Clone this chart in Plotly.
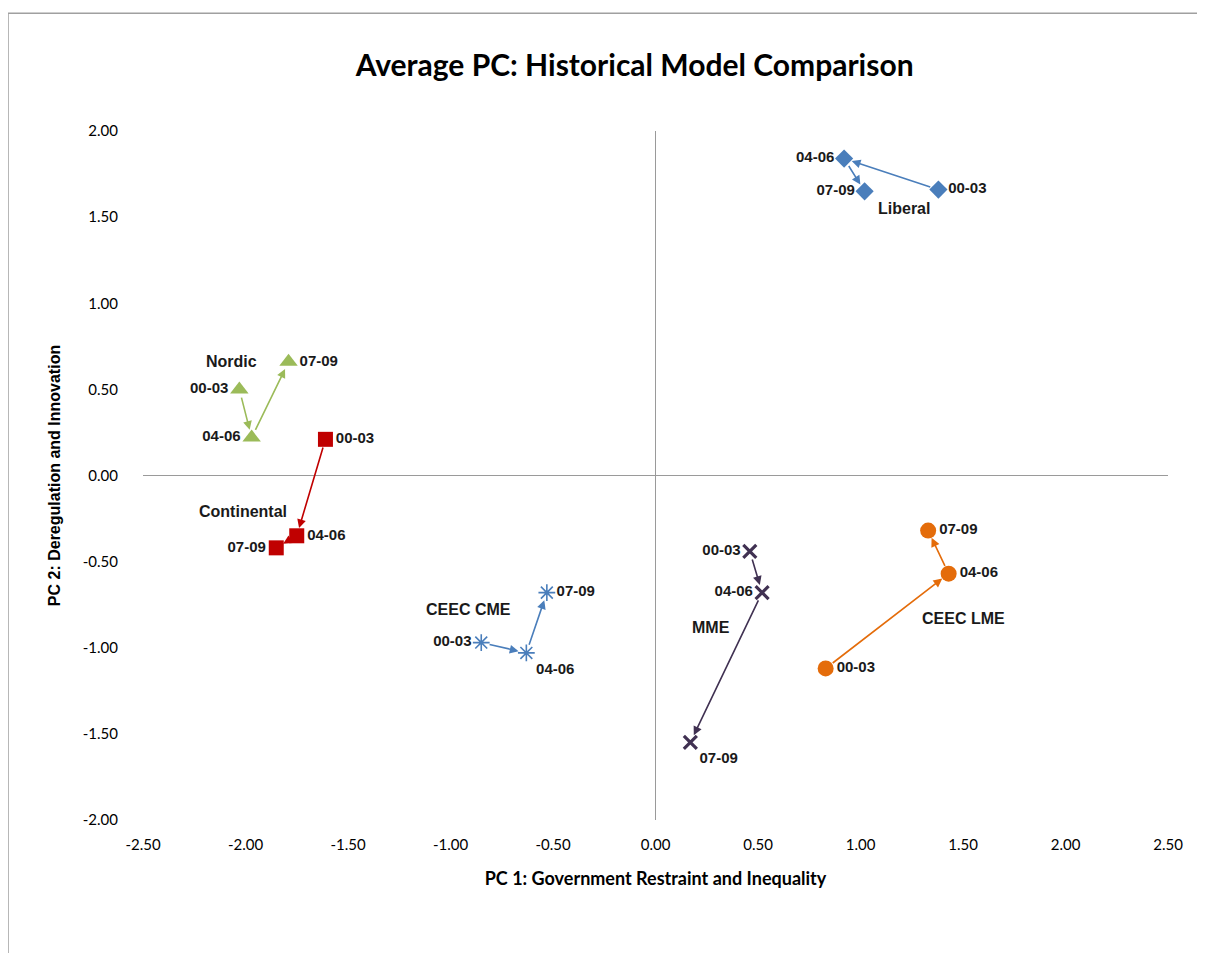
import plotly.graph_objects as go

periods = ["00-03", "04-06", "07-09"]

liberal_x = [1.38, 0.92, 1.02]
liberal_y = [1.66, 1.84, 1.65]
nordic_x = [-2.03, -1.97, -1.79]
nordic_y = [0.50, 0.22, 0.66]
continental_x = [-1.61, -1.75, -1.85]
continental_y = [0.21, -0.35, -0.42]
cme_x = [-0.85, -0.63, -0.53]
cme_y = [-0.97, -1.03, -0.68]
mme_x = [0.46, 0.52, 0.17]
mme_y = [-0.44, -0.68, -1.55]
lme_x = [0.83, 1.43, 1.33]
lme_y = [-1.12, -0.57, -0.32]

group_names = ["Liberal", "Nordic", "Continental", "CEEC CME", "MME", "CEEC LME"]
group_label_x = [1.21, -2.07, -2.01, -0.91, 0.27, 1.50]
group_label_y = [1.55, 0.66, -0.21, -0.78, -0.88, -0.83]

x_ticks = [-2.5, -2.0, -1.5, -1.0, -0.5, 0.0, 0.5, 1.0, 1.5, 2.0, 2.5]
y_ticks = [-2.0, -1.5, -1.0, -0.5, 0.0, 0.5, 1.0, 1.5, 2.0]

series = [
    dict(x=liberal_x, y=liberal_y, color="#4A7EBB", symbol="diamond", size=14, lw=0,
         pos=["middle right", "middle left", "middle left"]),
    dict(x=nordic_x, y=nordic_y, color="#9BBB59", symbol="triangle-up", size=16, lw=0,
         pos=["middle left", "middle left", "middle right"]),
    dict(x=continental_x, y=continental_y, color="#C00000", symbol="square", size=15, lw=0,
         pos=["middle right", "middle right", "middle left"]),
    dict(x=cme_x, y=cme_y, color="#4A7EBB", symbol="asterisk-open", size=14, lw=1.6,
         pos=["middle left", "bottom right", "middle right"]),
    dict(x=mme_x, y=mme_y, color="#403152", symbol="x-thin-open", size=13, lw=3.2,
         pos=["middle left", "middle left", "bottom right"]),
    dict(x=lme_x, y=lme_y, color="#E46C0A", symbol="circle", size=16, lw=0,
         pos=["middle right", "middle right", "middle right"]),
]

label_font = dict(family="Liberation Sans", size=15, color="#1a1a1a")

fig = go.Figure()
annotations = []
for s in series:
    fig.add_trace(go.Scatter(
        x=s["x"], y=s["y"], mode="markers+text",
        text=["<b>%s</b>" % p for p in periods],
        textposition=s["pos"], textfont=label_font,
        marker=dict(symbol=s["symbol"], size=s["size"], color=s["color"],
                    line=dict(width=s["lw"], color=s["color"])),
        showlegend=False, cliponaxis=False,
    ))
    for i in range(len(s["x"]) - 1):
        annotations.append(dict(
            x=s["x"][i + 1], y=s["y"][i + 1], ax=s["x"][i], ay=s["y"][i],
            xref="x", yref="y", axref="x", ayref="y",
            showarrow=True, arrowhead=2, arrowsize=1.1, arrowwidth=1.6,
            arrowcolor=s["color"], standoff=8, startstandoff=7, text="",
        ))

for name, gx, gy in zip(group_names, group_label_x, group_label_y):
    annotations.append(dict(
        x=gx, y=gy, xref="x", yref="y", text="<b>%s</b>" % name,
        showarrow=False, font=dict(family="Liberation Sans", size=16, color="#1a1a1a"),
    ))

# page body has an 8px margin, so the figure is laid out relative to (8, 8)
fig.update_layout(
    width=1205, height=953,
    margin=dict(l=135, r=45, t=123, b=141),
    paper_bgcolor="white", plot_bgcolor="white",
    title=dict(text="<b>Average PC: Historical Model Comparison</b>",
               x=0.52, xanchor="center", y=0.94, yanchor="middle",
               font=dict(family="Lato", size=30, color="black")),
    xaxis=dict(range=[-2.5, 2.5], tickvals=x_ticks,
               ticktext=["%.2f" % v for v in x_ticks],
               showgrid=False, zeroline=True, zerolinecolor="#9a9a9a", zerolinewidth=1,
               showline=False, ticks="", ticklabelstandoff=14,
               tickfont=dict(family="Lato", size=15, color="black"),
               title=dict(text="<b>PC 1: Government Restraint and Inequality</b>",
                          font=dict(family="Lato", size=18, color="black"), standoff=20)),
    yaxis=dict(range=[-2.0, 2.0], tickvals=y_ticks,
               ticktext=["%.2f" % v for v in y_ticks],
               showgrid=False, zeroline=True, zerolinecolor="#9a9a9a", zerolinewidth=1,
               showline=False, ticks="", ticklabelstandoff=24,
               tickfont=dict(family="Lato", size=15, color="black"),
               title=dict(text="<b>PC 2: Deregulation and Innovation</b>",
                          font=dict(family="Liberation Sans", size=16, color="black"), standoff=18)),
    annotations=annotations,
    shapes=[
        dict(type="line", xref="paper", yref="paper", x0=-0.1317, x1=1.06, y0=1.171, y1=1.171,
             line=dict(color="#a0a0a0", width=1.5)),
        dict(type="line", xref="paper", yref="paper", x0=-0.1317, x1=-0.1317, y0=1.171, y1=-0.25,
             line=dict(color="#a0a0a0", width=1.5)),
    ],
)

fig.write_html("out.html")
